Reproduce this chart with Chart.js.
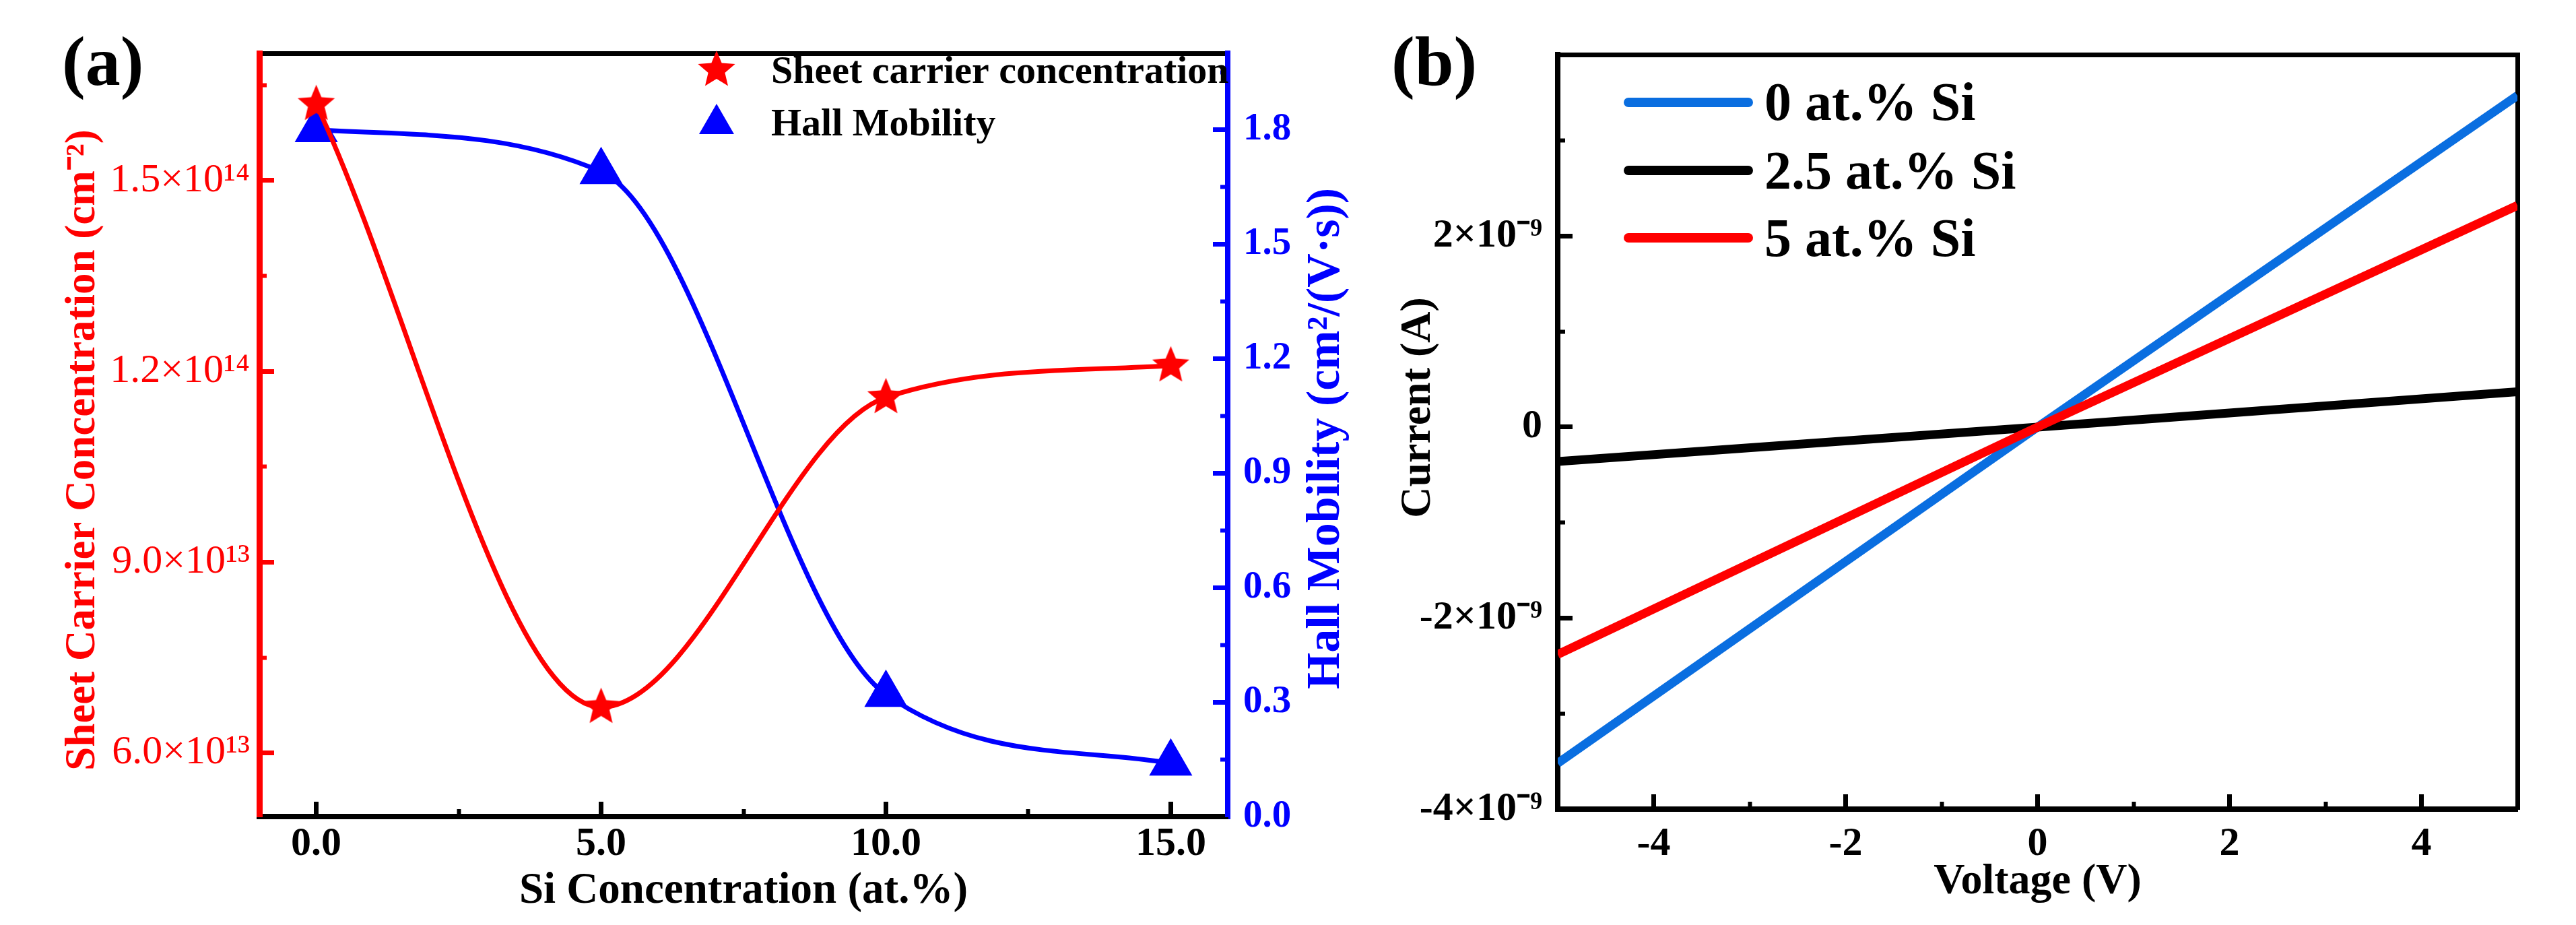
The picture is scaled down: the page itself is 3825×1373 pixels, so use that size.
<!DOCTYPE html>
<html>
<head>
<meta charset="utf-8">
<script src="https://cdn.jsdelivr.net/npm/chart.js@4.4.1/dist/chart.umd.min.js"></script>
<style>
  html, body { margin: 0; padding: 0; background: #fff; overflow: hidden; }
  canvas { position: absolute; top: 0; background: #fff; }
  #hall { left: 0; }
  #iv { left: 2040px; }
</style>
</head>
<body>
<canvas id="hall" width="2040" height="1373"></canvas>
<canvas id="iv" width="1785" height="1373"></canvas>
<script>
// (a) Hall measurement vs Si content
var siConc = [0, 5, 10, 15];
var sheetConc = [1.62e14, 6.72e13, 1.159e14, 1.209e14];
var hallMob = [1.80, 1.69, 0.32, 0.14];
var siTicks = [0, 5, 10, 15];
var siMinor = [2.5, 7.5, 12.5];
var sheetTicks = [6e13, 9e13, 1.2e14, 1.5e14];
var sheetMinor = [7.5e13, 1.05e14, 1.35e14, 1.65e14];
var mobTicks = [0, 0.3, 0.6, 0.9, 1.2, 1.5, 1.8];
var mobMinor = [0.15, 0.45, 0.75, 1.05, 1.35, 1.65, 1.95];

// (b) I-V curves
var voltage = [-5, 0, 5];
var current0 = [-3.52e-9, 0, 3.47e-9];
var current25 = [-0.36e-9, 0, 0.37e-9];
var current5 = [-2.38e-9, 0, 2.32e-9];
var voltTicks = [-4, -2, 0, 2, 4];
var voltMinor = [-3, -1, 1, 3];
var currTicks = [-4e-9, -2e-9, 0, 2e-9];
var currMinor = [-3e-9, -1e-9, 1e-9, 3e-9];

var FONT = "'Liberation Serif', 'Times New Roman', serif";
var RED = '#ff0000';
var BLUE = '#0000ff';
var SHEET_TITLE = 'Sheet Carrier Concentration (cm\u207B\u00B2)';
var MOB_TITLE = 'Hall Mobility (cm\u00B2/(V\u00B7s))';
var CURR_TITLE = 'Current (A)';

var SUP = {'0': '\u2070', '1': '\u00B9', '2': '\u00B2', '3': '\u00B3', '4': '\u2074',
  '5': '\u2075', '6': '\u2076', '7': '\u2077', '8': '\u2078', '9': '\u2079', '-': '\u207B'};

function sci(v, digits) {
  if (Math.abs(v) < 1e-30) return '0';
  var e = Math.floor(Math.log10(Math.abs(v)) + 1e-9);
  var m = v / Math.pow(10, e);
  return m.toFixed(digits) + '\u00D710' + String(e).split('').map(function (c) { return SUP[c]; }).join('');
}

function useTicks(list) {
  return function (scale) {
    scale.ticks = list.map(function (v) { return { value: v }; });
  };
}

function toPoints(xs, ys) {
  return xs.map(function (x, i) { return { x: x, y: ys[i] }; });
}

// filled five-point star used as point style
function makeStar(r, color) {
  var c = document.createElement('canvas');
  c.width = c.height = Math.ceil(r * 2 + 2);
  var g = c.getContext('2d');
  g.fillStyle = color;
  g.beginPath();
  for (var i = 0; i < 10; i++) {
    var rr = i % 2 ? r * 0.45 : r;
    var a = -Math.PI / 2 + i * Math.PI / 5;
    g.lineTo(c.width / 2 + rr * Math.cos(a), c.height / 2 + rr * Math.sin(a));
  }
  g.closePath();
  g.fill();
  return c;
}
var starImg = makeStar(29, RED);

function drawMarker(ctx, ds, x, y) {
  if (typeof ds.pointStyle === 'object') {
    ctx.drawImage(ds.pointStyle, x - ds.pointStyle.width / 2, y - ds.pointStyle.height / 2);
    return;
  }
  var r = ds.pointRadius;
  ctx.fillStyle = ds.pointBackgroundColor;
  ctx.beginPath();
  for (var k = 0; k < 3; k++) {
    var a = k * 2 * Math.PI / 3;
    ctx.lineTo(x + Math.sin(a) * r, y - Math.cos(a) * r);
  }
  ctx.closePath();
  ctx.fill();
}

function panelLabel(text, x, y) {
  return {
    id: 'panelLabel',
    afterDraw: function (chart) {
      var ctx = chart.ctx;
      ctx.save();
      ctx.font = 'bold 104px ' + FONT;
      ctx.fillStyle = '#000';
      ctx.textBaseline = 'alphabetic';
      ctx.fillText(text, x, y);
      ctx.restore();
    }
  };
}

// vertical axis titles, reading bottom to top
function sideTitles(list) {
  return {
    id: 'sideTitles',
    afterDraw: function (chart) {
      var ctx = chart.ctx;
      list.forEach(function (t) {
        ctx.save();
        ctx.translate(t.x, t.y);
        ctx.rotate(-Math.PI / 2);
        ctx.font = 'bold ' + t.size + 'px ' + FONT;
        ctx.fillStyle = t.color;
        ctx.textAlign = 'center';
        ctx.textBaseline = 'middle';
        ctx.fillText(t.text, 0, 0);
        ctx.restore();
      });
    }
  };
}

var hallLegend = {
  id: 'hallLegend',
  afterDraw: function (chart) {
    var ctx = chart.ctx;
    var markY = [104, 184];
    var textY = [123, 201];
    ctx.save();
    ctx.font = 'bold 58px ' + FONT;
    ctx.textBaseline = 'alphabetic';
    chart.data.datasets.forEach(function (ds, i) {
      drawMarker(ctx, ds, 1064, markY[i]);
      ctx.fillStyle = '#000';
      ctx.fillText(ds.label, 1145, textY[i]);
    });
    ctx.restore();
  }
};

var ivLegend = {
  id: 'ivLegend',
  afterDraw: function (chart) {
    var ctx = chart.ctx;
    var lineY = [152, 253, 353];
    var textY = [178, 280, 380];
    ctx.save();
    ctx.font = 'bold 80px ' + FONT;
    ctx.textBaseline = 'alphabetic';
    ctx.lineCap = 'round';
    ctx.lineWidth = 14;
    chart.data.datasets.forEach(function (ds, i) {
      ctx.strokeStyle = ds.borderColor;
      ctx.beginPath();
      ctx.moveTo(378, lineY[i]);
      ctx.lineTo(556, lineY[i]);
      ctx.stroke();
      ctx.fillStyle = '#000';
      ctx.fillText(ds.label, 580, textY[i]);
    });
    ctx.restore();
  }
};

function minorAxis(axis, position, min, max, list, color) {
  return {
    type: 'linear', axis: axis, position: position, weight: 0, min: min, max: max,
    afterFit: function (s) { if (axis === 'x') { s.height = 0; } else { s.width = 0; } },
    afterBuildTicks: useTicks(list),
    border: { display: false },
    grid: { drawOnChartArea: false, tickLength: -11, tickWidth: 6, color: color },
    ticks: { display: false, autoSkip: false }
  };
}

function edgeAxis(axis, position, min, max, width) {
  return {
    type: 'linear', axis: axis, position: position, min: min, max: max,
    afterFit: function (s) { if (axis === 'x') { s.height = 0; } else { s.width = 0; } },
    border: { display: true, color: '#000', width: width },
    grid: { display: false },
    ticks: { display: false }
  };
}

var hall = new Chart(document.getElementById('hall'), {
  type: 'line',
  data: {
    datasets: [
      {
        label: 'Sheet carrier concentration',
        data: toPoints(siConc, sheetConc),
        yAxisID: 'y',
        borderColor: RED,
        backgroundColor: RED,
        borderWidth: 7,
        pointStyle: starImg,
        pointRadius: 28,
        cubicInterpolationMode: 'monotone'
      },
      {
        label: 'Hall Mobility',
        data: toPoints(siConc, hallMob),
        yAxisID: 'y2',
        borderColor: BLUE,
        backgroundColor: BLUE,
        borderWidth: 7,
        pointStyle: 'triangle',
        pointRadius: 30,
        pointBackgroundColor: BLUE,
        pointBorderColor: BLUE,
        cubicInterpolationMode: 'monotone'
      }
    ]
  },
  options: {
    responsive: false,
    devicePixelRatio: 1,
    animation: false,
    events: [],
    layout: { padding: { top: 50, left: 0, right: 0, bottom: 0 } },
    plugins: { legend: { display: false }, tooltip: { enabled: false } },
    scales: {
      x: {
        type: 'linear', position: 'bottom', weight: 1, min: -1, max: 16,
        afterFit: function (s) { s.height = 161; },
        afterBuildTicks: useTicks(siTicks),
        border: { display: true, color: '#000', width: 8 },
        grid: { drawOnChartArea: false, tickLength: -22, tickWidth: 7, color: '#000' },
        ticks: {
          autoSkip: false, maxRotation: 0, padding: 27, color: '#000',
          font: { family: FONT, size: 60, weight: 'bold' },
          callback: function (v) { return v.toFixed(1); }
        },
        title: {
          display: true, text: 'Si Concentration (at.%)', color: '#000',
          font: { family: FONT, size: 65, weight: 'bold' },
          padding: { top: 0, bottom: 11 }
        }
      },
      xMinor: minorAxis('x', 'bottom', -1, 16, siMinor, '#000'),
      xTop: edgeAxis('x', 'top', -1, 16, 7),
      y: {
        type: 'linear', position: 'left', weight: 1, min: 5e13, max: 1.7e14,
        afterFit: function (s) { s.width = 385; },
        afterBuildTicks: useTicks(sheetTicks),
        border: { display: true, color: RED, width: 9 },
        grid: { drawOnChartArea: false, tickLength: -22, tickWidth: 7, color: RED },
        ticks: {
          autoSkip: false, padding: 36, color: RED,
          font: { family: FONT, size: 60 },
          callback: function (v) { return sci(v, 1); }
        }
      },
      yMinor: minorAxis('y', 'left', 5e13, 1.7e14, sheetMinor, RED),
      y2: {
        type: 'linear', position: 'right', weight: 1, min: 0, max: 2,
        afterFit: function (s) { s.width = 217; },
        afterBuildTicks: useTicks(mobTicks),
        border: { display: true, color: BLUE, width: 8 },
        grid: { drawOnChartArea: false, tickLength: -22, tickWidth: 7, color: BLUE },
        ticks: {
          autoSkip: false, padding: 45, color: BLUE,
          font: { family: FONT, size: 57, weight: 'bold' },
          callback: function (v) { return v.toFixed(1); }
        }
      },
      y2Minor: minorAxis('y', 'right', 0, 2, mobMinor, BLUE)
    }
  },
  plugins: [
    panelLabel('(a)', 92, 126),
    hallLegend,
    sideTitles([
      { text: SHEET_TITLE, x: 124, y: 668, size: 63, color: RED },
      { text: MOB_TITLE, x: 1970, y: 651, size: 70, color: BLUE }
    ])
  ]
});

var iv = new Chart(document.getElementById('iv'), {
  type: 'line',
  data: {
    datasets: [
      { label: '0 at.% Si', data: toPoints(voltage, current0), borderColor: '#0a6ee0', borderWidth: 13, pointRadius: 0, order: 3 },
      { label: '2.5 at.% Si', data: toPoints(voltage, current25), borderColor: '#000000', borderWidth: 13, pointRadius: 0, order: 2 },
      { label: '5 at.% Si', data: toPoints(voltage, current5), borderColor: '#ff0000', borderWidth: 13, pointRadius: 0, order: 1 }
    ]
  },
  options: {
    responsive: false,
    devicePixelRatio: 1,
    animation: false,
    events: [],
    layout: { padding: { top: 51, left: 0, right: 87, bottom: 0 } },
    plugins: { legend: { display: false }, tooltip: { enabled: false } },
    scales: {
      x: {
        type: 'linear', position: 'bottom', weight: 1, min: -5, max: 5,
        afterFit: function (s) { s.height = 172; },
        afterBuildTicks: useTicks(voltTicks),
        border: { display: true, color: '#000', width: 8 },
        grid: { drawOnChartArea: false, tickLength: -22, tickWidth: 7, color: '#000' },
        ticks: {
          autoSkip: false, maxRotation: 0, padding: 38, color: '#000',
          font: { family: FONT, size: 60, weight: 'bold' },
          callback: function (v) { return String(v); }
        },
        title: {
          display: true, text: 'Voltage (V)', color: '#000',
          font: { family: FONT, size: 64, weight: 'bold' },
          padding: { top: 0, bottom: 25 }
        }
      },
      xMinor: minorAxis('x', 'bottom', -5, 5, voltMinor, '#000'),
      xTop: edgeAxis('x', 'top', -5, 5, 7),
      y: {
        type: 'linear', position: 'left', weight: 1, min: -4e-9, max: 3.9e-9,
        afterFit: function (s) { s.width = 273; },
        afterBuildTicks: useTicks(currTicks),
        border: { display: true, color: '#000', width: 8 },
        grid: { drawOnChartArea: false, tickLength: -22, tickWidth: 7, color: '#000' },
        ticks: {
          autoSkip: false, padding: 45, color: '#000',
          font: { family: FONT, size: 60, weight: 'bold' },
          callback: function (v) { return sci(v, 0); }
        }
      },
      yMinor: minorAxis('y', 'left', -4e-9, 3.9e-9, currMinor, '#000'),
      yRight: edgeAxis('y', 'right', -4e-9, 3.9e-9, 7)
    }
  },
  plugins: [
    panelLabel('(b)', 26, 126),
    ivLegend,
    sideTitles([{ text: CURR_TITLE, x: 66, y: 605, size: 64, color: '#000' }])
  ]
});
</script>
</body>
</html>
